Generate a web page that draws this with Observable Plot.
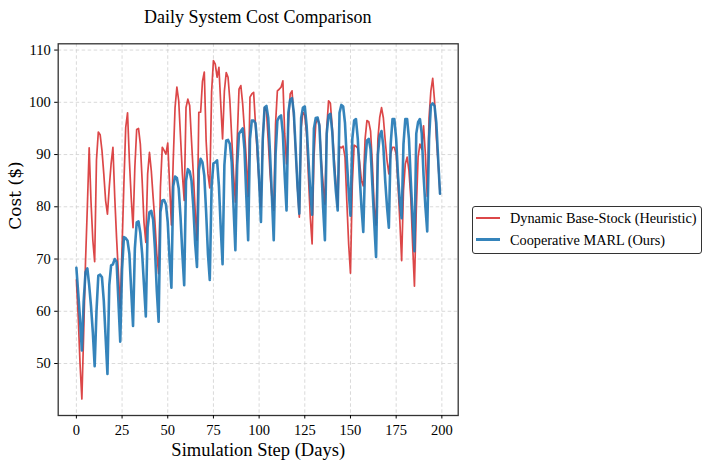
<!DOCTYPE html>
<html>
<head>
<meta charset="utf-8">
<script src="https://cdn.jsdelivr.net/npm/d3@7"></script>
<script src="https://cdn.jsdelivr.net/npm/@observablehq/plot@0.6"></script>
<style>
  body { margin: 0; background: #fff; }
  #wrap { position: relative; width: 718px; height: 470px; font-family: "Liberation Serif", "Times New Roman", serif; color: #000; }
  #title { position: absolute; left: 0; top: 8px; width: 515.4px; text-align: center; font-size: 18px; line-height: 18px; white-space: nowrap; }
  #chart { position: absolute; left: 0; top: 30px; }
  #legend { position: absolute; left: 472.3px; top: 205.7px; width: 230px; height: 48.6px; box-sizing: border-box; border: 1px solid #333; border-radius: 3px; background: #fff; }
  .sw { position: absolute; left: 2.4px; width: 24.3px; height: 0; }
  .lt { position: absolute; left: 36.7px; font-size: 14.3px; line-height: 16px; white-space: nowrap; }
</style>
</head>
<body>
<div id="wrap">
  <div id="title"></div>
  <div id="chart"></div>
  <div id="legend"></div>
</div>
<script>
// ---- data ----
const title = "Daily System Cost Comparison";
const xLabel = "Simulation Step (Days)";
const yLabel = "Cost ($)";
const seriesNames = ["Dynamic Base-Stock (Heuristic)", "Cooperative MARL (Ours)"];
const seriesColors = ["#d62728", "#1f77b4"];
const xTicks = [0, 25, 50, 75, 100, 125, 150, 175, 200];
const yTicks = [50, 60, 70, 80, 90, 100, 110];

const heuristic = [
  66, 59, 50, 43.2, 56, 69.5, 80, 91.3, 81, 73.6, 69.5,
  89, 94.3, 93.8, 90.8, 86.3, 81.2, 78.6,
  83.8, 88.2, 91.4, 81.8, 74, 67.2, 60.6,
  72.3, 84.4, 95.2, 98, 88.9, 81.8, 76,
  87.6, 94.8, 95, 92, 85, 77, 73.2,
  86.3, 90.4, 86.9, 81.8, 77, 71, 67.2,
  83.8, 91.4, 90.8, 90.1, 92.2, 84.4, 76.5,
  88.9, 99, 102.9, 100.3, 93.3, 86.3, 81.2,
  99, 100.6, 99.4, 92.7, 86.3, 79.3, 73.6,
  98.1, 98.1, 104, 105.8, 92.7, 86.3, 83.6,
  102, 108, 107.3, 104.8, 106.7, 99.7, 93,
  102.2, 105.7, 104.8, 100.3, 93.3, 86.3, 80.9,
  92.7, 102.5, 103.2, 99.7, 94.6, 88.9, 82,
  101, 101.6, 101.9, 95.9, 90.1, 84.4, 80,
  92.7, 99, 98.4, 92.7, 86.3, 81.8, 79.3,
  95.9, 102.2, 102.5, 102.9, 104.1, 94, 88.2,
  95.9, 101.6, 102.2, 97.1, 90.8, 83.8, 78,
  95.2, 98.1, 97.5, 93.9, 85.7, 78, 72.9,
  89.5, 95.9, 96.8, 95.9, 88.9, 84.4, 80.5,
  95, 100.3, 99.8, 95.2, 89.5, 84.4, 80,
  91.5, 91.3, 91.6, 89.5, 81, 72.9, 67.3,
  84.4, 91.8, 91.6, 91.2, 88.5, 85, 84,
  93, 96.5, 96.3, 94.5, 88, 80, 76.5,
  93, 97.1, 99, 97, 92.7, 88.9, 86.3,
  90.2, 91.4, 91.4, 90.1, 84.4, 77.4, 69.7,
  83.1, 88.2, 89.5, 86.9, 81.8, 72.9, 64.8,
  79.3, 89.5, 92, 91, 95.5, 90, 82,
  97.1, 102.2, 104.6, 100.3, 93.3, 88.2, 82.5
];

const marl = [
  68.3, 63.5, 58.5, 52.5, 62, 67.5, 68.2, 65, 61, 56, 49.5,
  60, 66.8, 67, 66.5, 62, 55, 48,
  65, 68.8, 69, 70, 69.5, 62, 54.2,
  68, 74.2, 74, 73.5, 71, 64, 57.2,
  72, 77, 77.2, 75, 71, 65, 59,
  76, 79, 79.2, 77.5, 72, 64, 58,
  79, 81.2, 81.3, 80.5, 77, 70, 64.5,
  84, 85.8, 85.5, 83.5, 78, 71, 65,
  85, 87.2, 86.8, 85, 80, 73, 68.5,
  87, 89.2, 88.5, 86, 79, 71, 66,
  84, 88.3, 88.5, 88.9, 84, 76, 69,
  88, 92.7, 92.8, 92, 88.5, 80, 71.7,
  88, 94, 94.5, 95, 91, 82, 73.6,
  93, 96.5, 96.5, 96, 92, 85, 77.1,
  93, 99, 99.3, 97, 90, 82, 73.6,
  90, 96.5, 97.2, 97.5, 94, 86, 79.3,
  98, 100.5, 100.8, 98, 91, 84, 78.7,
  97, 99, 99.2, 95.5, 89, 83, 78.5,
  95, 97, 97.1, 95.5, 88, 80, 73.6,
  94, 97.5, 97.8, 94.5, 88, 83, 79.3,
  98, 99.5, 99.2, 96, 89, 83, 78.3,
  93, 96.5, 96.8, 93, 86, 80, 75.2,
  88, 92.7, 93, 91, 84, 77, 70.4,
  90, 93.6, 94.5, 91.5, 85, 80, 76,
  92, 96.8, 96.8, 93, 86, 81, 77.8,
  92, 96.8, 96.8, 93, 85, 78, 71.5,
  94, 96.2, 96.8, 94, 86, 80, 75.3,
  93, 99.4, 99.8, 99.3, 96, 89, 82.5
];

const steps = d3.range(heuristic.length);

// ---- build ----
const rows = steps.map((s, i) => ({ step: s, heuristic: heuristic[i], marl: marl[i] }));

document.getElementById("title").textContent = title;

const gridStyle = { stroke: "#cfcfcf", strokeOpacity: 1, strokeWidth: 0.8, strokeDasharray: "3.5,2.5" };

const chart = Plot.plot({
  width: 470,
  height: 440,
  marginTop: 13.3,
  marginBottom: 55,
  marginLeft: 57.7,
  marginRight: 12.3,
  style: { fontFamily: "'Liberation Serif', 'Times New Roman', serif", fontSize: "14.5px", background: "white", color: "black", overflow: "visible" },
  x: { domain: [-9.95, 208.95] },
  y: { domain: [40.05, 111.2] },
  marks: [
    Plot.gridX(xTicks, gridStyle),
    Plot.gridY(yTicks, gridStyle),
    Plot.line(rows, { x: "step", y: "heuristic", stroke: seriesColors[0], strokeWidth: 1.7, strokeOpacity: 0.85 }),
    Plot.line(rows, { x: "step", y: "marl", stroke: seriesColors[1], strokeWidth: 2.6, strokeOpacity: 0.9 }),
    Plot.frame({ stroke: "#333", strokeWidth: 1.3 }),
    Plot.axisX(xTicks, { tickSize: 3.5, tickPadding: 6, label: null, fontSize: 14.5, stroke: "#000" }),
    Plot.axisY(yTicks, { tickSize: 3.5, tickPadding: 4, label: null, fontSize: 14.5, stroke: "#000" }),
    Plot.text([xLabel], { text: d => d, frameAnchor: "bottom", dy: 40, fontSize: 18.5 }),
    Plot.text([yLabel], { text: d => d, frameAnchor: "left", dx: -43, rotate: -90, fontSize: 17, fontFamily: "DejaVu Serif", letterSpacing: 1 })
  ]
});
document.getElementById("chart").appendChild(chart);

// legend
const legend = document.getElementById("legend");
const widths = [2, 3];
const lineTops = [11, 32.6];
const textTops = [3.8, 25.4];
seriesNames.forEach((name, i) => {
  const sw = document.createElement("div");
  sw.className = "sw";
  sw.style.top = (lineTops[i] - widths[i] / 2) + "px";
  sw.style.borderTop = widths[i] + "px solid " + seriesColors[i];
  sw.style.opacity = i === 0 ? 0.85 : 0.9;
  legend.appendChild(sw);
  const t = document.createElement("div");
  t.className = "lt";
  t.style.top = textTops[i] + "px";
  t.textContent = name;
  legend.appendChild(t);
});
</script>
</body>
</html>
